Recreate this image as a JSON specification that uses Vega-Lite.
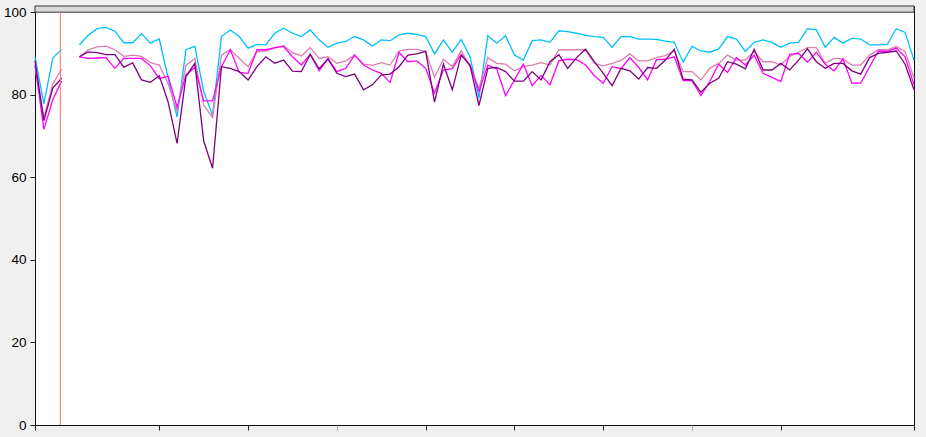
{
  "$schema": "https://vega.github.io/schema/vega-lite/v6.json",
  "width": 879,
  "height": 419,
  "autosize": {"type": "none"},
  "padding": {"left": 35, "top": 6, "right": 12, "bottom": 12},
  "background": "#f0f0f0",
  "config": {
    "view": {"fill": "white", "stroke": "#111", "strokeWidth": 1}
  },
  "data": {"values": [
    {"i":0,"cyan":89.2,"mauve":87.0,"magenta":87.3,"purple":88.3},
    {"i":1,"cyan":77.8,"mauve":74.6,"magenta":71.6,"purple":73.7},
    {"i":2,"cyan":88.9,"mauve":82.6,"magenta":78.8,"purple":81.6},
    {"i":3,"cyan":91.0,"mauve":86.2,"magenta":83.3,"purple":84.0},
    {"i":4,"cyan":null,"mauve":null,"magenta":null,"purple":null},
    {"i":5,"cyan":92.1,"mauve":89.2,"magenta":89.2,"purple":89.2},
    {"i":6,"cyan":94.4,"mauve":90.9,"magenta":88.8,"purple":90.4},
    {"i":7,"cyan":96.0,"mauve":91.6,"magenta":88.9,"purple":90.2},
    {"i":8,"cyan":96.3,"mauve":91.8,"magenta":89.0,"purple":89.7},
    {"i":9,"cyan":95.4,"mauve":90.9,"magenta":86.4,"purple":89.7},
    {"i":10,"cyan":92.6,"mauve":89.3,"magenta":88.8,"purple":86.7},
    {"i":11,"cyan":92.6,"mauve":89.6,"magenta":88.8,"purple":87.7},
    {"i":12,"cyan":94.8,"mauve":89.3,"magenta":88.8,"purple":83.6},
    {"i":13,"cyan":92.5,"mauve":87.8,"magenta":87.0,"purple":83.0},
    {"i":14,"cyan":93.5,"mauve":87.2,"magenta":83.9,"purple":84.6},
    {"i":15,"cyan":84.0,"mauve":82.6,"magenta":84.5,"purple":78.2},
    {"i":16,"cyan":74.6,"mauve":76.0,"magenta":77.0,"purple":68.2},
    {"i":17,"cyan":90.9,"mauve":87.1,"magenta":84.8,"purple":84.4},
    {"i":18,"cyan":91.7,"mauve":88.8,"magenta":86.6,"purple":87.6},
    {"i":19,"cyan":80.8,"mauve":77.5,"magenta":78.5,"purple":68.8},
    {"i":20,"cyan":75.0,"mauve":74.5,"magenta":78.5,"purple":62.2},
    {"i":21,"cyan":94.1,"mauve":89.6,"magenta":86.8,"purple":86.8},
    {"i":22,"cyan":95.7,"mauve":91.0,"magenta":90.9,"purple":86.4},
    {"i":23,"cyan":94.1,"mauve":88.8,"magenta":85.4,"purple":85.6},
    {"i":24,"cyan":91.3,"mauve":86.8,"magenta":85.2,"purple":83.6},
    {"i":25,"cyan":92.2,"mauve":90.5,"magenta":90.9,"purple":86.8},
    {"i":26,"cyan":92.1,"mauve":90.6,"magenta":90.9,"purple":89.2},
    {"i":27,"cyan":94.9,"mauve":91.3,"magenta":91.4,"purple":87.6},
    {"i":28,"cyan":96.1,"mauve":91.9,"magenta":91.7,"purple":88.4},
    {"i":29,"cyan":94.9,"mauve":90.2,"magenta":89.2,"purple":85.7},
    {"i":30,"cyan":94.1,"mauve":89.4,"magenta":87.2,"purple":85.6},
    {"i":31,"cyan":95.7,"mauve":91.4,"magenta":89.8,"purple":89.8},
    {"i":32,"cyan":93.3,"mauve":88.8,"magenta":85.8,"purple":86.3},
    {"i":33,"cyan":91.5,"mauve":89.2,"magenta":88.7,"purple":88.7},
    {"i":34,"cyan":92.5,"mauve":87.6,"magenta":85.6,"purple":85.2},
    {"i":35,"cyan":92.9,"mauve":88.2,"magenta":86.4,"purple":84.4},
    {"i":36,"cyan":94.1,"mauve":89.6,"magenta":89.6,"purple":85.0},
    {"i":37,"cyan":93.3,"mauve":87.4,"magenta":87.2,"purple":81.2},
    {"i":38,"cyan":91.8,"mauve":87.1,"magenta":86.0,"purple":82.4},
    {"i":39,"cyan":93.3,"mauve":87.8,"magenta":85.2,"purple":84.8},
    {"i":40,"cyan":93.1,"mauve":87.2,"magenta":83.0,"purple":85.0},
    {"i":41,"cyan":94.5,"mauve":90.6,"magenta":90.3,"purple":86.8},
    {"i":42,"cyan":94.9,"mauve":91.0,"magenta":88.0,"purple":89.6},
    {"i":43,"cyan":94.6,"mauve":91.0,"magenta":88.2,"purple":89.9},
    {"i":44,"cyan":94.1,"mauve":90.5,"magenta":86.4,"purple":90.5},
    {"i":45,"cyan":89.9,"mauve":84.2,"magenta":80.4,"purple":78.2},
    {"i":46,"cyan":93.3,"mauve":88.6,"magenta":86.0,"purple":87.4},
    {"i":47,"cyan":90.3,"mauve":86.8,"magenta":86.3,"purple":81.2},
    {"i":48,"cyan":93.4,"mauve":90.7,"magenta":89.8,"purple":89.6},
    {"i":49,"cyan":89.2,"mauve":86.8,"magenta":87.2,"purple":87.1},
    {"i":50,"cyan":79.2,"mauve":81.6,"magenta":80.8,"purple":77.4},
    {"i":51,"cyan":94.3,"mauve":89.0,"magenta":87.2,"purple":86.4},
    {"i":52,"cyan":92.5,"mauve":87.6,"magenta":86.3,"purple":86.6},
    {"i":53,"cyan":94.3,"mauve":87.4,"magenta":79.8,"purple":85.6},
    {"i":54,"cyan":89.6,"mauve":85.8,"magenta":83.6,"purple":83.3},
    {"i":55,"cyan":88.4,"mauve":86.8,"magenta":87.4,"purple":83.3},
    {"i":56,"cyan":93.1,"mauve":87.2,"magenta":82.2,"purple":85.6},
    {"i":57,"cyan":93.3,"mauve":87.8,"magenta":84.7,"purple":83.6},
    {"i":58,"cyan":92.7,"mauve":87.2,"magenta":82.4,"purple":88.0},
    {"i":59,"cyan":95.5,"mauve":90.9,"magenta":88.2,"purple":89.7},
    {"i":60,"cyan":95.3,"mauve":90.9,"magenta":88.6,"purple":86.4},
    {"i":61,"cyan":94.9,"mauve":90.9,"magenta":88.5,"purple":89.0},
    {"i":62,"cyan":94.4,"mauve":90.9,"magenta":87.2,"purple":91.0},
    {"i":63,"cyan":94.1,"mauve":87.6,"magenta":84.6,"purple":88.0},
    {"i":64,"cyan":93.9,"mauve":87.0,"magenta":82.8,"purple":85.2},
    {"i":65,"cyan":91.5,"mauve":87.6,"magenta":86.8,"purple":82.2},
    {"i":66,"cyan":94.1,"mauve":88.3,"magenta":86.3,"purple":86.4},
    {"i":67,"cyan":94.1,"mauve":89.9,"magenta":89.0,"purple":85.8},
    {"i":68,"cyan":93.5,"mauve":88.2,"magenta":86.6,"purple":83.8},
    {"i":69,"cyan":93.5,"mauve":88.2,"magenta":83.6,"purple":86.6},
    {"i":70,"cyan":93.4,"mauve":89.0,"magenta":88.5,"purple":86.4},
    {"i":71,"cyan":93.0,"mauve":89.5,"magenta":88.6,"purple":88.4},
    {"i":72,"cyan":92.7,"mauve":90.6,"magenta":89.2,"purple":91.0},
    {"i":73,"cyan":87.9,"mauve":85.6,"magenta":83.4,"purple":83.8},
    {"i":74,"cyan":91.7,"mauve":85.6,"magenta":83.4,"purple":83.6},
    {"i":75,"cyan":90.6,"mauve":83.6,"magenta":79.8,"purple":80.6},
    {"i":76,"cyan":90.3,"mauve":86.4,"magenta":83.2,"purple":82.8},
    {"i":77,"cyan":91.1,"mauve":87.6,"magenta":87.4,"purple":84.0},
    {"i":78,"cyan":94.1,"mauve":89.6,"magenta":85.4,"purple":88.0},
    {"i":79,"cyan":93.5,"mauve":88.4,"magenta":89.0,"purple":87.4},
    {"i":80,"cyan":90.5,"mauve":88.4,"magenta":87.2,"purple":86.3},
    {"i":81,"cyan":92.7,"mauve":90.5,"magenta":89.6,"purple":91.0},
    {"i":82,"cyan":93.3,"mauve":88.0,"magenta":85.2,"purple":86.0},
    {"i":83,"cyan":92.7,"mauve":88.0,"magenta":84.2,"purple":86.0},
    {"i":84,"cyan":91.5,"mauve":87.2,"magenta":83.2,"purple":87.6},
    {"i":85,"cyan":92.5,"mauve":89.3,"magenta":89.8,"purple":86.0},
    {"i":86,"cyan":92.7,"mauve":90.3,"magenta":90.0,"purple":88.4},
    {"i":87,"cyan":96.0,"mauve":91.4,"magenta":87.9,"purple":91.1},
    {"i":88,"cyan":95.7,"mauve":91.4,"magenta":90.3,"purple":88.0},
    {"i":89,"cyan":91.5,"mauve":87.6,"magenta":87.4,"purple":86.4},
    {"i":90,"cyan":93.9,"mauve":88.8,"magenta":85.8,"purple":87.6},
    {"i":91,"cyan":92.5,"mauve":88.7,"magenta":88.7,"purple":87.6},
    {"i":92,"cyan":93.7,"mauve":87.2,"magenta":82.8,"purple":85.8},
    {"i":93,"cyan":93.5,"mauve":87.2,"magenta":82.8,"purple":85.0},
    {"i":94,"cyan":92.1,"mauve":89.6,"magenta":86.8,"purple":89.0},
    {"i":95,"cyan":92.1,"mauve":90.9,"magenta":90.6,"purple":90.0},
    {"i":96,"cyan":92.2,"mauve":90.9,"magenta":90.5,"purple":90.3},
    {"i":97,"cyan":96.0,"mauve":91.7,"magenta":91.3,"purple":90.6},
    {"i":98,"cyan":95.1,"mauve":90.5,"magenta":89.2,"purple":87.4},
    {"i":99,"cyan":88.4,"mauve":84.0,"magenta":82.4,"purple":81.2}
  ]},
  "layer": [
    {
      "data": {"values": [{"band": "over100"}]},
      "mark": {"type": "rect", "fill": "#dadada", "stroke": "#333", "strokeWidth": 1},
      "encoding": {
        "x": {"datum": 0, "type": "quantitative"},
        "x2": {"datum": 99},
        "y": {"datum": 100, "type": "quantitative"},
        "y2": {"datum": 101.5}
      }
    },
    {
      "transform": [{"fold": ["cyan", "mauve", "magenta", "purple"], "as": ["series", "value"]}],
      "mark": {"type": "line", "strokeWidth": 1.3, "invalid": "break-paths-filter-domains"},
      "encoding": {
        "x": {
          "field": "i", "type": "quantitative",
          "scale": {"domain": [0, 99], "nice": false, "zero": false},
          "axis": {
            "values": [0, 14, 24, 34, 44, 54, 64, 74, 84, 99],
            "labels": false, "title": null, "grid": false, "domain": false,
            "tickSize": 5, "tickWidth": 1,
            "tickColor": {"condition": {"test": "datum.value == 34 || datum.value == 74", "value": "#aaaaaa"}, "value": "#222222"}
          }
        },
        "y": {
          "field": "value", "type": "quantitative",
          "scale": {"domain": [0, 101.5], "nice": false, "zero": true},
          "axis": {
            "values": [0, 20, 40, 60, 80, 100],
            "title": null, "grid": false, "domain": false,
            "tickSize": 5, "tickColor": "#222222",
            "labelFont": "Liberation Sans", "labelFontSize": 13.5, "labelColor": "#000000",
            "labelPadding": 4
          }
        },
        "color": {
          "field": "series", "type": "nominal",
          "scale": {"domain": ["cyan", "mauve", "magenta", "purple"], "range": ["#00BFFF", "#DE7EAE", "#FF00FF", "#800080"]},
          "legend": null
        },
        "order": {"field": "i", "type": "quantitative"}
      }
    },
    {
      "data": {"values": [{"marker": 2.85}]},
      "mark": {"type": "rule", "color": "#FF7070", "strokeWidth": 1},
      "encoding": {
        "x": {"field": "marker", "type": "quantitative"},
        "y": {"datum": 0},
        "y2": {"datum": 100}
      }
    }
  ]
}
